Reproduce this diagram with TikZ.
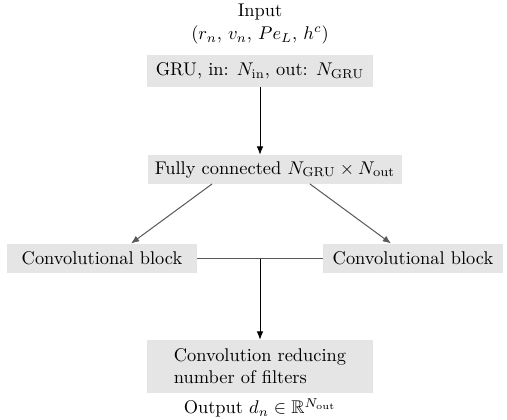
\documentclass[tikz,border=0pt]{standalone}
\usepackage{amssymb}
\usetikzlibrary{arrows.meta}
\def\pu{0.5435pt}
\begin{document}
\begin{tikzpicture}[x=\pu, y=-\pu,
  box/.style={fill=black!10, inner sep=0pt, minimum height={29*\pu}},
  arr/.style={draw=black, line width=0.5pt, -{Latex[length=4.5pt,width=3.6pt]}},
  garr/.style={draw=black!65, line width=0.55pt, -{Latex[length=4.5pt,width=3.6pt]}},
  link/.style={draw=black!65, line width=0.55pt}]
\useasboundingbox (0,0) rectangle (507,419);

% input description
\node (in) at (260,12) {Input};
\node (tup) at (260,35) {$(r_n$, $v_n$, $Pe_L$, $h^c)$};

% main column of layers
\node[box, minimum width={226*\pu}, minimum height={32*\pu}] (gru) at (260,71)
  {GRU, in: $N_{\mathrm{in}}$, out: $N_{\mathrm{GRU}}$};
\node[box, minimum width={254*\pu}] (fc) at (275,169.5)
  {Fully connected $N_{\mathrm{GRU}}\times N_{\mathrm{out}}$};
\node[box, minimum width={190*\pu}] (cl) at (102,258.5) {Convolutional block};
\node[box, minimum width={180*\pu}] (cr) at (413,258.5) {Convolutional block};
\node[box, minimum width={226*\pu}, minimum height={53*\pu}, align=left] (red) at (260,366.5)
  {Convolution reducing\\number of filters};
\node (out) at (260,408) {Output $d_n\in\mathbb{R}^{N_{\mathrm{out}}}$};

% junction where both convolutional branches meet
\coordinate (j) at (260,258.5);
\coordinate (fl) at (212,184);
\coordinate (fr) at (310,184);

\draw[arr] (gru.south) -- (gru.south |- fc.north);
\draw[garr] (fl) -- (131,243.5);
\draw[garr] (fr) -- (391,243.5);
\draw[link] (cl.east) -- (cr.west);
\draw[arr] (j) -- (red.north);
\end{tikzpicture}
\end{document}
